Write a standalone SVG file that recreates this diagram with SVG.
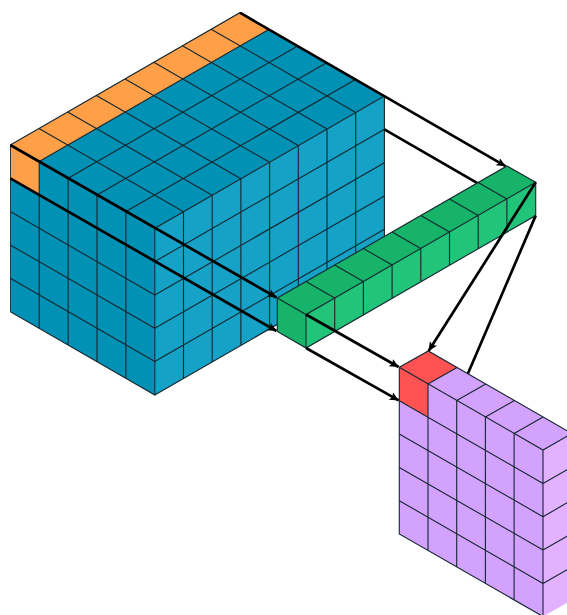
<svg xmlns="http://www.w3.org/2000/svg" width="567" height="615" viewBox="0 0 567 615">
<defs>
<marker id="ah" markerUnits="userSpaceOnUse" markerWidth="12" markerHeight="12" refX="9" refY="5" orient="auto"><path d="M0 0.8L9 5L0 9.2L2 5Z" fill="#000"/></marker>
<filter id="soft" x="0" y="0" width="1" height="1" filterUnits="objectBoundingBox"><feGaussianBlur stdDeviation="0.35"/></filter>
</defs>
<style>
.g{stroke:#16262e;stroke-width:1.1;fill:none}
.bt{fill:#0491b5}.bl{fill:#0491b5}.br{fill:#12a1c6}
.or{fill:#ffa04a}
.gt{fill:#12b368}.gr{fill:#20c47a}
.pt{fill:#d3a2ff}.pr{fill:#e2b1ff}.rd{fill:#ff5252}
.a{stroke:#000;stroke-width:2.7;fill:none;stroke-linecap:butt}
</style>
<rect width="567" height="615" fill="#fff"/>
<g filter="url(#soft)">
<g id="input-block">
<path class="bt" d="M10.3 145L239.9 12.7L384.4 96L154.8 228.3Z"/>
<path class="bl" d="M10.3 145L154.8 228.3V395L10.3 311.7Z"/>
<path class="br" d="M154.8 228.3L384.4 96V262.7L154.8 395Z"/>
<path class="or" d="M10.3 145L239.9 12.7L268.8 29.4L39.2 161.6V195L10.3 178.3Z"/>
<path class="g" d="M39.2 161.6V328.4M68.1 178.3V345M97 195V361.7M125.9 211.6V378.3M10.3 178.3L154.8 261.6M10.3 211.6L154.8 295M10.3 245L154.8 328.3M10.3 278.3L154.8 361.6"/>
<path class="g" d="M183.5 211.8V378.5M212.2 195.2V361.9M240.9 178.7V345.4M269.6 162.2V328.9M298.3 145.6V312.3M327 129.1V295.8M355.7 112.5V279.2M154.8 261.6L384.4 129.3M154.8 295L384.4 162.7M154.8 328.3L384.4 196M154.8 361.6L384.4 229.3"/>
<path class="g" d="M10.3 145L154.8 228.3L384.4 96L239.9 12.7ZM39 128.5L183.5 211.8M67.7 111.9L212.2 195.2M96.4 95.4L240.9 178.7M125.1 78.9L269.6 162.2M153.8 62.3L298.3 145.6M182.5 45.8L327 129.1M211.2 29.2L355.7 112.5M39.2 161.6L268.8 29.4M68.1 178.3L297.7 46M97 195L326.6 62.7M125.9 211.6L355.5 79.4"/>
<path class="g" d="M10.3 145V311.7L154.8 395V228.3M154.8 395L384.4 262.7V96"/>
</g>
<g id="connectors-input">
<path class="a" d="M239.9 12.7L505.5 166.2" marker-end="url(#ah)"/>
<path class="a" d="M384.4 129.3L506 199.6"/>
<path class="a" d="M10.3 145L276.5 297.5" marker-end="url(#ah)"/>
<path class="a" d="M10.3 178.3L276.5 331" marker-end="url(#ah)"/>
</g>
<g id="middle-row">
<path class="gt" d="M277.3 298L506.9 166L535.7 182.3L306 314.5Z"/>
<path class="gt" d="M277.3 298L306 314.5V348L277.3 331.5Z"/>
<path class="gr" d="M306 314.5L535.7 182.3V215.6L306 348Z"/>
<path class="g" d="M277.3 298L506.9 166L535.7 182.3L306 314.5ZM306 281.5L334.7 298M334.7 265L363.4 281.5M363.4 248.5L392.1 265M392.1 232L420.8 248.5M420.8 215.5L449.5 232M449.5 199L478.2 215.5M478.2 182.5L506.9 199"/>
<path class="g" d="M277.3 298V331.5L306 348L535.7 215.6V182.3M306 314.5V348M334.7 298V331.4M363.4 281.5V314.9M392.1 265V298.4M420.8 248.5V281.9M449.5 232V265.4M478.2 215.5V248.9M506.9 199V232.4"/>
</g>
<g id="connectors-output">
<path class="a" d="M306 314.5L398.7 367" marker-end="url(#ah)"/>
<path class="a" d="M306 348L398.7 400.4" marker-end="url(#ah)"/>
<path class="a" d="M535.7 182.3L428.6 351" marker-end="url(#ah)"/>
<path class="a" d="M535.7 215.6L460 392"/>
</g>
<g id="output-block">
<path class="pt" d="M399.3 367.3L428.3 351L572 433.5L543 450Z"/>
<path class="pt" d="M399.3 367.3L543 450V616.5L399.3 534Z"/>
<path class="pr" d="M543 450L572 433.5V600L543 616.5Z"/>
<path class="rd" d="M399.3 367.3L428.3 351L457 367.5L428 384V417L399.3 400.7Z"/>
<path class="g" d="M399.3 367.3L428.3 351L572 433.5M399.3 367.3L543 450L572 433.5M399.3 367.3V534L543 616.5M543 450V616.5M428 384V550.5M456.7 400.5V567M485.4 417V583.5M514.1 433.5V600M428 384L457 367.5M456.7 400.5L485.7 384M485.4 417L514.4 400.5M514.1 433.5L543.1 417M399.3 400.7L543 483.4M399.3 434L543 516.7M399.3 467.4L543 550M399.3 500.7L543 583.4M543 483.4L572 467M543 516.7L572 500M543 550L572 533.4M543 583.4L572 567"/>
</g>
</g>
</svg>
